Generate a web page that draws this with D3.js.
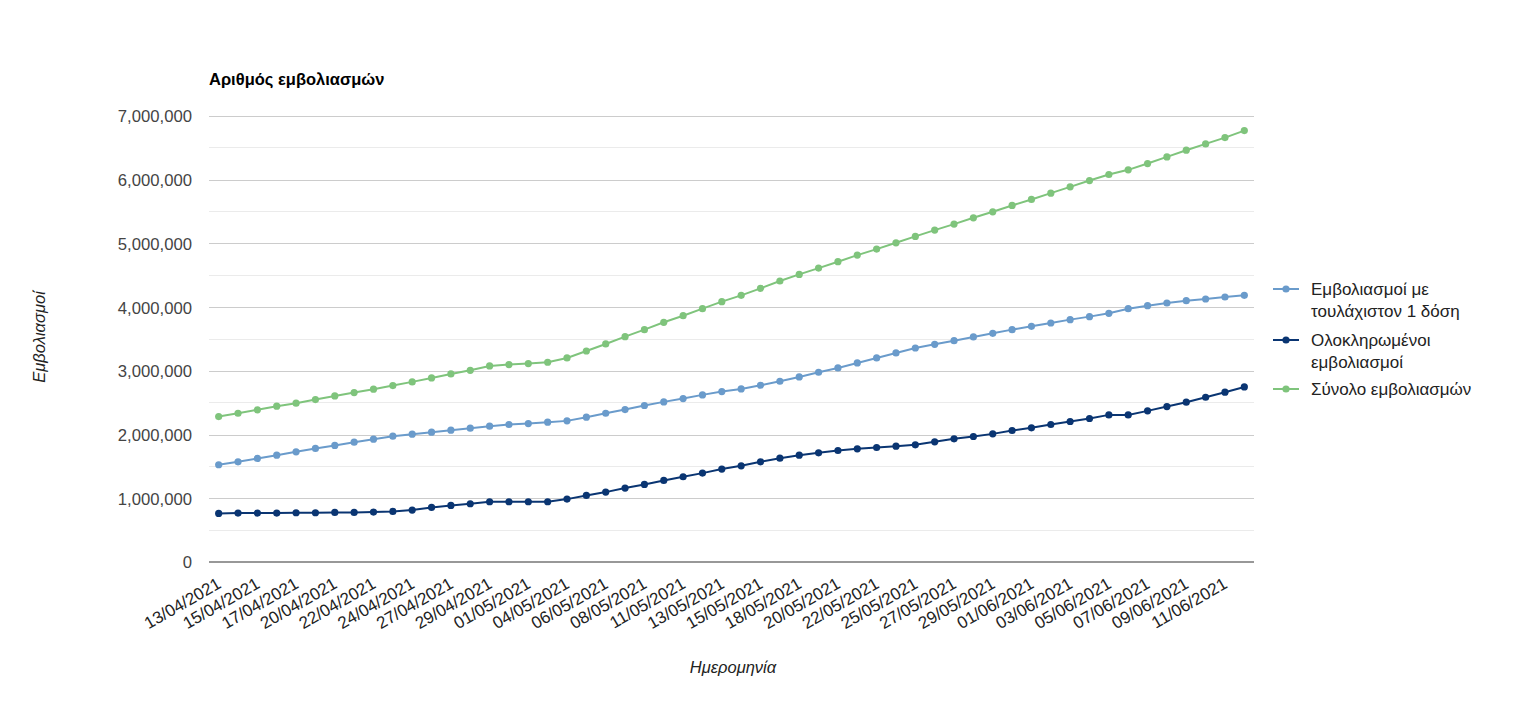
<!DOCTYPE html>
<html><head><meta charset="utf-8">
<script src="https://cdn.jsdelivr.net/npm/d3@7"></script>
<style>
body{margin:0;background:#fff;}
svg{display:block;font-family:Arial,"Liberation Sans",sans-serif;}
</style></head><body>
<svg id="c" width="1515" height="708"></svg>
<script>
const dates = ["13/04/2021","14/04/2021","15/04/2021","16/04/2021","17/04/2021","19/04/2021","20/04/2021","21/04/2021","22/04/2021","23/04/2021","24/04/2021","26/04/2021","27/04/2021","28/04/2021","29/04/2021","30/04/2021","01/05/2021","03/05/2021","04/05/2021","05/05/2021","06/05/2021","07/05/2021","08/05/2021","10/05/2021","11/05/2021","12/05/2021","13/05/2021","14/05/2021","15/05/2021","17/05/2021","18/05/2021","19/05/2021","20/05/2021","21/05/2021","22/05/2021","24/05/2021","25/05/2021","26/05/2021","27/05/2021","28/05/2021","29/05/2021","31/05/2021","01/06/2021","02/06/2021","03/06/2021","04/06/2021","05/06/2021","06/06/2021","07/06/2021","08/06/2021","09/06/2021","10/06/2021","11/06/2021","12/06/2021"];

const firstDose = [1526000,1573000,1625000,1677000,1729000,1782000,1829000,1881000,1928000,1975000,2006000,2038000,2069000,2100000,2132000,2158000,2173000,2194000,2215000,2273000,2335000,2393000,2456000,2513000,2565000,2623000,2675000,2717000,2774000,2837000,2905000,2978000,3046000,3124000,3203000,3281000,3359000,3417000,3474000,3532000,3589000,3647000,3699000,3751000,3804000,3851000,3903000,3976000,4023000,4065000,4101000,4128000,4159000,4185000];

const fullyVaccinated = [763000,768000,768000,768000,773000,773000,778000,778000,784000,794000,815000,857000,888000,914000,946000,946000,946000,946000,987000,1045000,1097000,1160000,1217000,1280000,1338000,1395000,1458000,1510000,1573000,1630000,1677000,1714000,1750000,1776000,1797000,1818000,1839000,1886000,1933000,1970000,2011000,2064000,2106000,2158000,2205000,2252000,2309000,2309000,2372000,2440000,2508000,2586000,2665000,2748000];

const total = [2283000,2335000,2388000,2445000,2492000,2550000,2607000,2659000,2712000,2769000,2827000,2889000,2952000,3009000,3077000,3098000,3114000,3135000,3203000,3312000,3422000,3537000,3647000,3762000,3866000,3976000,4086000,4185000,4295000,4410000,4514000,4613000,4713000,4817000,4911000,5010000,5110000,5209000,5303000,5402000,5496000,5596000,5690000,5789000,5888000,5987000,6082000,6155000,6254000,6358000,6463000,6562000,6661000,6771000];

const seriesNames = ["Εμβολιασμοί με|τουλάχιστον 1 δόση","Ολοκληρωμένοι|εμβολιασμοί","Σύνολο εμβολιασμών"];
const seriesColors = ["#6a9bcb","#0a3572","#7fc47c"];
const yTicks = [0,1000000,2000000,3000000,4000000,5000000,6000000,7000000];
const title = "Αριθμός εμβολιασμών";
const yTitle = "Εμβολιασμοί";
const xTitle = "Ημερομηνία";

const series = [firstDose, fullyVaccinated, total];

const svg = d3.select("#c");
const L = 209, R = 1254, T = 116, B = 562;
const x = d3.scalePoint().domain(dates).range([L, R]).padding(0.5);
const y = d3.scaleLinear().domain([0, 7000000]).range([B, T]);

// minor gridlines
const minor = d3.range(500000, 7000000, 1000000);
svg.append("g").selectAll("line").data(minor).join("line")
  .attr("x1", L).attr("x2", R).attr("y1", d => y(d)).attr("y2", d => y(d))
  .attr("stroke", "#ebebeb").attr("stroke-width", 1).attr("shape-rendering","crispEdges");

// y axis with major gridlines
const yAxis = d3.axisLeft(y).tickValues(yTicks).tickFormat(d3.format(",")).tickSize(-(R - L)).tickPadding(17);
const gy = svg.append("g").attr("transform", `translate(${L},0)`).call(yAxis);
gy.select(".domain").remove();
gy.selectAll(".tick line").attr("stroke", "#cccccc").attr("shape-rendering","crispEdges");
gy.selectAll(".tick text").attr("fill", "#444").style("font-size", "16.7px").attr("dy","0.35em");
gy.selectAll(".tick").filter(d => d === 0).select("line").remove();

// x axis
const xAxis = d3.axisBottom(x).tickValues(dates.filter((d, i) => i % 2 === 0)).tickSize(0).tickPadding(0);
const gx = svg.append("g").attr("transform", `translate(0,${B})`).call(xAxis);
gx.select(".domain").remove();
gx.selectAll(".tick text")
  .attr("fill", "#222").style("font-size", "17px")
  .attr("text-anchor", "end").attr("dy", 0).attr("y", 0)
  .attr("transform", "translate(3,25) rotate(-30)");
svg.append("line").attr("x1", L).attr("x2", R).attr("y1", B).attr("y2", B)
  .attr("stroke", "#333").attr("stroke-width", 1.2);

// lines and points
const line = d3.line().x((d, i) => x(dates[i])).y(d => y(d));
series.forEach((s, k) => {
  svg.append("path").datum(s).attr("d", line).attr("fill", "none")
    .attr("stroke", seriesColors[k]).attr("stroke-width", 2);
  svg.append("g").selectAll("circle").data(s).join("circle")
    .attr("cx", (d, i) => x(dates[i])).attr("cy", d => y(d)).attr("r", 3.6)
    .attr("fill", seriesColors[k]);
});

// title
svg.append("text").attr("x", L).attr("y", 85).text(title)
  .style("font-size", "16.5px").style("font-weight", "bold").attr("fill", "#000");

// axis titles
svg.append("text").attr("transform", "translate(45,337) rotate(-90)").attr("text-anchor", "middle")
  .style("font-size", "16.5px").style("font-style", "italic").attr("fill", "#222").text(yTitle);
svg.append("text").attr("x", 733).attr("y", 673).attr("text-anchor", "middle")
  .style("font-size", "16.5px").style("font-style", "italic").attr("fill", "#222").text(xTitle);

// legend
const legY = [289, 340, 389];
const lg = svg.append("g");
seriesNames.forEach((n, k) => {
  const yy = legY[k];
  lg.append("line").attr("x1", 1273).attr("x2", 1299).attr("y1", yy).attr("y2", yy)
    .attr("stroke", seriesColors[k]).attr("stroke-width", 2);
  lg.append("circle").attr("cx", 1286).attr("cy", yy).attr("r", 3.6).attr("fill", seriesColors[k]);
  const t = lg.append("text").attr("x", 1311).attr("y", yy).attr("fill", "#222").style("font-size", "17px");
  n.split("|").forEach((p, j) => {
    t.append("tspan").attr("x", 1311).attr("y", yy + j * 22).attr("dy", "0.35em").text(p);
  });
});
</script></body></html>
